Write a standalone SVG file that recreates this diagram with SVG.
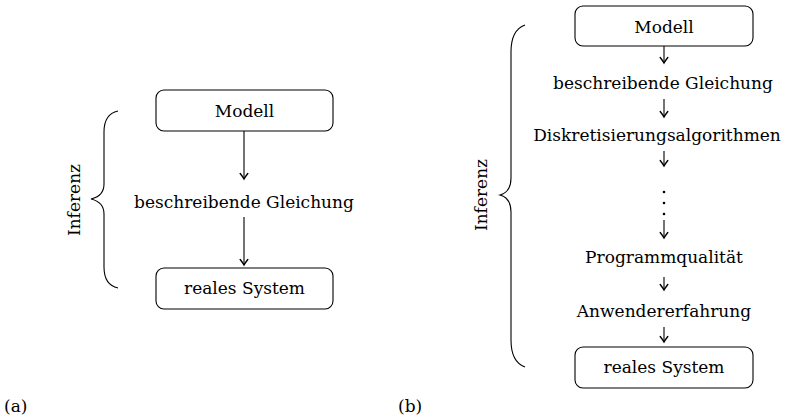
<svg xmlns="http://www.w3.org/2000/svg" width="791" height="419" viewBox="0 0 791 419">
<style>
text{font-family:"DejaVu Serif","Liberation Serif",serif;font-size:17px;fill:#000;}
.c{text-anchor:middle;}
.box{fill:#fff;stroke:#000;stroke-width:1.1;}
.ln{stroke:#000;stroke-width:1.1;fill:none;marker-end:url(#ah);}
.br{stroke:#000;stroke-width:1.1;fill:none;}
</style>
<defs>
<marker id="ah" markerWidth="12" markerHeight="12" refX="0" refY="0" viewBox="-7 -6 9 12" orient="auto" markerUnits="userSpaceOnUse">
<path d="M-5.5,-3.8 Q-1.8,-0.9 0,0 Q-1.8,0.9 -5.5,3.8" fill="none" stroke="#000" stroke-width="1.4" stroke-linecap="round"/>
</marker>
</defs>
<g id="connectors">
<line class="ln" x1="244" y1="131" x2="244" y2="179"/>
<line class="ln" x1="244" y1="217" x2="244" y2="265"/>
<line class="ln" x1="664" y1="46" x2="664" y2="63"/>
<line class="ln" x1="664" y1="99" x2="664" y2="117"/>
<line class="ln" x1="664" y1="151" x2="664" y2="166"/>
<line class="ln" x1="664" y1="220" x2="664" y2="238"/>
<line class="ln" x1="664" y1="277" x2="664" y2="290"/>
<line class="ln" x1="664" y1="327" x2="664" y2="342"/>
</g>
<g id="a-modell">
<rect class="box" x="156" y="90" width="177" height="41" rx="8"/>
<text class="c" x="244.5" y="117">Modell</text>
</g>
<g id="a-gleichung">
<text class="c" x="244" y="208">beschreibende Gleichung</text>
</g>
<g id="a-system">
<rect class="box" x="156" y="268" width="177" height="41" rx="8"/>
<text class="c" x="244.5" y="294">reales System</text>
</g>
<g id="a-inferenz">
<path class="br" d="M118,111 Q104,114 104,132 L104,184 Q104,196 91,199 Q104,202 104,214 L104,267 Q104,285 118,288"/>
<text class="c" transform="translate(80,200) rotate(-90)">Inferenz</text>
</g>
<g id="b-modell">
<rect class="box" x="575" y="6" width="178" height="40" rx="8"/>
<text class="c" x="664" y="33">Modell</text>
</g>
<g id="b-gleichung"><text class="c" x="663" y="89">beschreibende Gleichung</text></g>
<g id="b-diskret"><text class="c" x="657" y="141">Diskretisierungsalgorithmen</text></g>
<g id="b-dots">
<circle cx="664" cy="192" r="1.3" fill="#000"/>
<circle cx="664" cy="203" r="1.3" fill="#000"/>
<circle cx="664" cy="214" r="1.3" fill="#000"/>
</g>
<g id="b-programm"><text class="c" x="664" y="263">Programmqualität</text></g>
<g id="b-anwender"><text class="c" x="664" y="317">Anwendererfahrung</text></g>
<g id="b-system">
<rect class="box" x="575" y="347" width="178" height="41" rx="8"/>
<text class="c" x="664" y="373">reales System</text>
</g>
<g id="b-inferenz">
<path class="br" d="M525,25 Q511,30 511,52 L511,178 Q511,192 500,195 Q511,198 511,212 L511,340 Q511,362 525,367"/>
<text class="c" transform="translate(487,195) rotate(-90)">Inferenz</text>
</g>
<text x="4" y="412">(a)</text>
<text x="398" y="412">(b)</text>
</svg>
